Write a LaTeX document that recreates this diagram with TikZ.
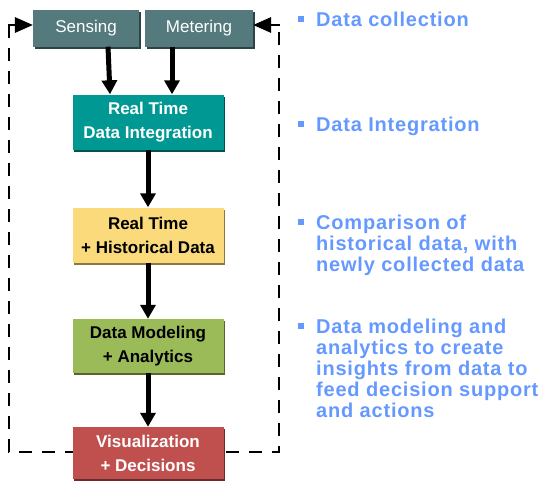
\documentclass[tikz,border=0pt]{standalone}
\usepackage{fontspec}
\setmainfont{Liberation Sans}
\newfontfamily\sidefont[LetterSpace=4]{Liberation Sans}
\usetikzlibrary{arrows.meta,shadows,backgrounds}

\definecolor{slate}{RGB}{84,122,125}
\definecolor{tealbox}{RGB}{0,152,146}
\definecolor{goldbox}{RGB}{250,218,122}
\definecolor{greenbox}{RGB}{155,187,89}
\definecolor{redbox}{RGB}{192,80,77}
\definecolor{sideblue}{RGB}{102,153,255}

\newcommand{\bul}{\llap{\raisebox{4.5pt}{\rule{6pt}{6pt}}\hspace{12pt}}}

\tikzset{
  box/.style={fill=#1, minimum width=151pt, minimum height=55pt, align=center,
    inner sep=2pt, font=\fontsize{17}{24}\selectfont\bfseries,
    drop shadow={shadow xshift=1.5pt, shadow yshift=-2pt, opacity=1, fill=#1!55!black}},
  srcbox/.style={box=slate, minimum width=106pt, minimum height=37pt,
    font=\fontsize{17}{20}\selectfont, text=white},
  flow/.style={line width=5pt, -{Triangle[length=14pt,width=15pt]}},
  feedback/.style={line width=2.5pt, dash pattern=on 13pt off 10pt},
  stub/.style={line width=2.5pt}
}

\begin{document}
\begin{tikzpicture}[x=1pt,y=-1pt,
  side/.style={anchor=base west, align=left, text=sideblue, inner sep=0pt,
    font=\sidefont\fontsize{20}{21}\selectfont\bfseries}]
\useasboundingbox (0,0) rectangle (545,480);

% process chain
\node[srcbox] (sensing) at (86,28) {Sensing};
\node[srcbox, minimum width=108pt] (metering) at (199,28) {Metering};
\node[box=tealbox, text=white] (integ) at (148,122) {Real Time\\Data Integration};
\node[box=goldbox] (hist) at (148,235) {Real Time\\+ Historical Data};
\node[box=greenbox, minimum height=54pt] (model) at (148,346) {Data Modeling\\+ Analytics};
\node[box=redbox, text=white, minimum height=52pt] (visual) at (148,453) {Visualization\\+ Decisions};

\draw[flow] ([xshift=22pt]sensing.south) -- ([xshift=-38pt]integ.north);
\draw[flow] ([xshift=-27pt]metering.south) -- ([xshift=24pt]integ.north);
\draw[flow] (integ) -- (hist);
\draw[flow] (hist) -- (model);
\draw[flow] (model) -- (visual);

% feedback loop
\coordinate (bl) at (9,452);
\coordinate (br) at (279,25);
\coordinate (tl) at (9,25);
\coordinate (sin) at (tl -| sensing.west);
\coordinate (min) at (br -| metering.east);
\begin{scope}[on background layer]
\draw[feedback] (tl) -- (bl) -| (br);
\end{scope}
\draw[stub] ([xshift=-1pt]tl) -- ([xshift=-10pt]sin);
\draw[stub] ([xshift=1pt]br) -- ([xshift=10pt]min);
\fill (sin) -- ++(-18,-8) -- ++(0,16) -- cycle;
\fill (min) -- ++(18,-8) -- ++(0,16) -- cycle;

% comments on the right (anchored at the last baseline)
\node[side] (colltext) at (316,26) {\bul Data collection};
\node[side] (integtext) at (316,131) {\bul Data Integration};
\node[side] (comptext) at (316,271) {\bul Comparison of\\historical data, with\\newly collected data};
\node[side] (modeltext) at (316,417) {\bul Data modeling and\\analytics to create\\insights from data to\\feed decision support\\and actions};

\end{tikzpicture}
\end{document}
